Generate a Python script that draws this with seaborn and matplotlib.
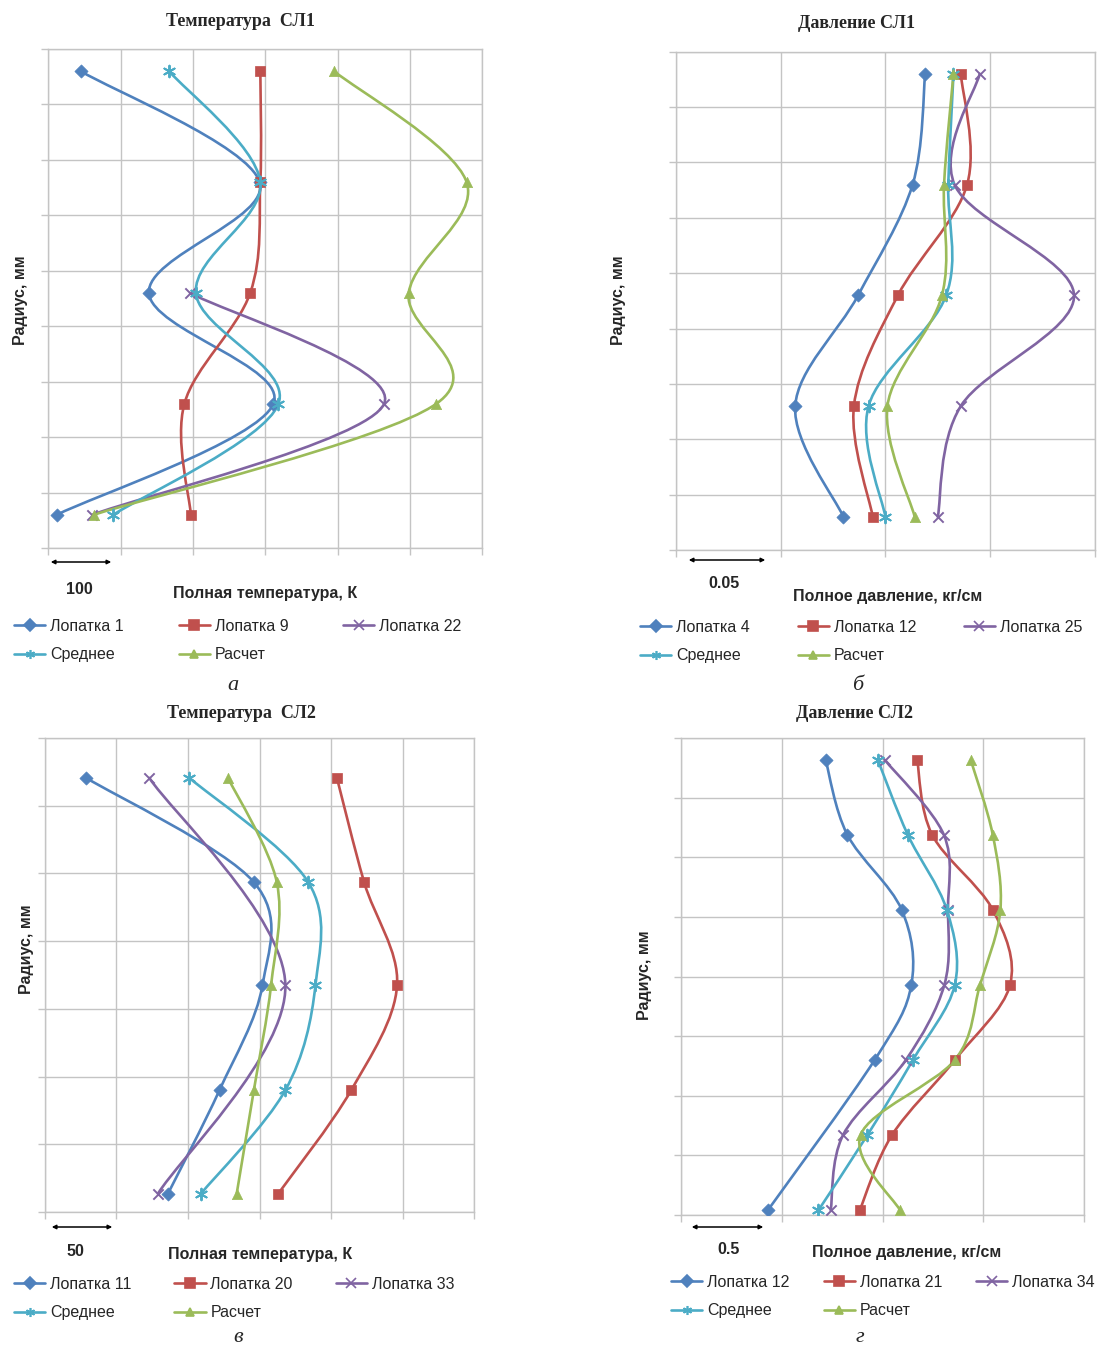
import numpy as np
import matplotlib
matplotlib.use("Agg")
import matplotlib.pyplot as plt
from matplotlib.path import Path
from matplotlib.patches import PathPatch, FancyArrowPatch
from matplotlib.lines import Line2D
import seaborn as sns

# ---- data (x in grid units of each panel, r = radius level) ----
# panel a: Температура СЛ1
r_a = [8.6, 6.6, 4.6, 2.6, 0.6]
a_blade1 = [45, 292, 139, 311, 12]
a_blade9 = [293, 293, 279, 188, 197]
r_a22 = [4.6, 2.6, 0.6]
a_blade22 = [196, 464, 61]
a_mean = [167, 293, 204, 318, 90]
a_calc = [395, 578, 498, 536, 63]

# panel b: Давление СЛ1
r_b = [8.6, 6.6, 4.6, 2.6, 0.6]
b_blade4 = [0.119, 0.113, 0.087, 0.057, 0.080]
b_blade12 = [0.136, 0.139, 0.106, 0.085, 0.094]
b_blade25 = [0.145, 0.133, 0.190, 0.136, 0.125]
b_mean = [0.1325, 0.130, 0.129, 0.092, 0.100]
b_calc = [0.1325, 0.128, 0.127, 0.101, 0.114]

# panel c: Температура СЛ2
r_c = [6.41, 4.87, 3.35, 1.80, 0.27]
c_blade11 = [29, 146, 152, 122, 86]
c_blade20 = [204, 223, 246, 214, 163]
r_c33 = [6.41, 3.35, 0.27]
c_blade33 = [73, 168, 79]
c_mean = [101, 184, 189, 168, 109]
c_calc = [128, 162, 158, 146, 134]

# panel d: Давление СЛ2
r_d = [7.63, 6.38, 5.12, 3.86, 2.60, 1.34, 0.08]
r_d12 = [7.63, 6.38, 5.12, 3.86, 2.60, 0.08]
d_blade12 = [0.718, 0.825, 1.095, 1.143, 0.961, 0.431]
d_blade21 = [1.172, 1.246, 1.547, 1.633, 1.359, 1.047, 0.887]
d_blade34 = [1.012, 1.304, 1.325, 1.307, 1.116, 0.804, 0.743]
d_mean = [0.977, 1.125, 1.319, 1.359, 1.151, 0.925, 0.682]
d_calc = [1.438, 1.547, 1.585, 1.484, 1.359, 0.891, 1.087]

W, H = 1098, 1348

sns.set_theme(style="white")
plt.rcParams['font.family'] = ['Liberation Sans', 'DejaVu Sans']

BLUE, RED, PURPLE, CYAN, GREEN = "#4F81BD", "#C0504D", "#8064A2", "#4BACC6", "#9BBB59"
STAR = (6, 2, 0)
GRID = "#c4c4c4"


def px(x, y):
    return x / W, 1 - y / H


def smooth_path(xs, ys):
    # excel-like smoothed line through the points
    pts = np.column_stack([xs, ys]).astype(float)
    n = len(pts)
    verts, codes = [pts[0]], [Path.MOVETO]
    for i in range(n - 1):
        p0, p1, p2 = pts[max(i - 1, 0)], pts[i], pts[i + 1]
        p3 = pts[min(i + 2, n - 1)]
        verts += [p1 + (p2 - p0) / 6, p2 - (p3 - p1) / 6, p2]
        codes += [Path.CURVE4] * 3
    return Path(verts, codes)


def draw_series(ax, xs, rs, color, marker, size):
    ax.add_patch(PathPatch(smooth_path(xs, rs), fill=False, edgecolor=color,
                           lw=1.9, zorder=3, capstyle='round'))
    if marker in ('x', STAR):
        sns.scatterplot(x=xs, y=rs, ax=ax, color=color, marker=marker, s=size,
                        linewidth=1.4, zorder=4, legend=False)
    else:
        sns.scatterplot(x=xs, y=rs, ax=ax, color=color, marker=marker, s=size,
                        edgecolor=color, linewidth=0.5, zorder=4, legend=False)


def setup_axes(ax, xmax, xstep, ymax):
    ax.set_xlim(0, xmax)
    ax.set_ylim(0, ymax)
    ax.set_xticks(np.arange(0, xmax + xstep / 2, xstep))
    ax.set_yticks(np.arange(0, ymax + 1))
    ax.set_xticklabels([])
    ax.set_yticklabels([])
    ax.grid(True, color=GRID, lw=1)
    for s in ax.spines.values():
        s.set_color(GRID)
        s.set_linewidth(1)
    ax.tick_params(direction='out', length=5, width=1, color=GRID,
                   left=True, bottom=True)
    ax.set_xlabel("")
    ax.set_ylabel("")


def add_legend(fig, names, colors, markers, x, y, colspace):
    handles = []
    for c, m in zip(colors, markers):
        ms = 6 if m in ('D', '^') else 6.5
        handles.append(Line2D([], [], color=c, marker=m, lw=1.9, markersize=ms,
                              markeredgecolor=c, markeredgewidth=1.2))
    order = [0, 3, 1, 4, 2]
    fig.legend([handles[i] for i in order], [names[i] for i in order],
               ncol=3, loc='upper left', bbox_to_anchor=px(x, y), frameon=False,
               borderpad=0, borderaxespad=0, handlelength=1.95, handletextpad=0.3,
               columnspacing=colspace, labelspacing=0.82, numpoints=1,
               fontsize=11.5)


def scale_bar(fig, x0, x1, y, label, lx, ly):
    fig.add_artist(FancyArrowPatch(
        px(x0, y), px(x1, y), transform=fig.transFigure, arrowstyle='<|-|>',
        mutation_scale=6, color='black', lw=1.1))
    fig.text(*px(lx, ly), label, ha='center', va='center', fontsize=11.5,
             fontweight='bold')


fig = plt.figure(figsize=(W / 100, H / 100), dpi=100)
fig.patch.set_facecolor('white')

title_kw = dict(ha='center', va='center', fontsize=13, fontweight='bold',
                family=['Liberation Serif', 'DejaVu Serif'])
lab_kw = dict(ha='center', va='center', fontsize=11.5, fontweight='bold')
let_kw = dict(ha='center', va='center', fontsize=16, style='italic',
              family=['Liberation Serif', 'DejaVu Serif'])

markers = ['D', 's', 'x', STAR, '^']
colors = [BLUE, RED, PURPLE, CYAN, GREEN]

# ---- panel a ----
ax = fig.add_axes([48.3 / W, 1 - 548 / H, (482.5 - 48.3) / W, (548 - 49) / H])
setup_axes(ax, 600, 100, 9)
draw_series(ax, a_blade1, r_a, BLUE, 'D', 45)
draw_series(ax, a_blade9, r_a, RED, 's', 60)
draw_series(ax, a_blade22, r_a22, PURPLE, 'x', 55)
draw_series(ax, a_mean, r_a, CYAN, STAR, 70)
draw_series(ax, a_calc, r_a, GREEN, '^', 55)
fig.text(*px(240, 22), "Температура  СЛ1", **title_kw)
fig.text(*px(20, 300), "Радиус, мм", rotation=90, **lab_kw)
fig.text(*px(265, 594), "Полная температура, К", **lab_kw)
scale_bar(fig, 48, 114, 562, "100", 79, 589)
add_legend(fig, ["Лопатка 1", "Лопатка 9", "Лопатка 22", "Среднее", "Расчет"],
           colors, markers, 14, 619, 3.45)
fig.text(*px(233, 686), "а", **let_kw)

# ---- panel b ----
ax = fig.add_axes([675.7 / W, 1 - 550 / H, (1095 - 675.7) / W, (550 - 51.7) / H])
setup_axes(ax, 0.2, 0.05, 9)
draw_series(ax, b_blade4, r_b, BLUE, 'D', 45)
draw_series(ax, b_blade12, r_b, RED, 's', 60)
draw_series(ax, b_blade25, r_b, PURPLE, 'x', 55)
draw_series(ax, b_mean, r_b, CYAN, STAR, 70)
draw_series(ax, b_calc, r_b, GREEN, '^', 55)
fig.text(*px(856, 24), "Давление СЛ1", **title_kw)
fig.text(*px(619, 300), "Радиус, мм", rotation=90, **lab_kw)
fig.text(*px(888, 596), "Полное давление, кг/см", **lab_kw)
scale_bar(fig, 686, 768, 560, "0.05", 724, 583)
add_legend(fig, ["Лопатка 4", "Лопатка 12", "Лопатка 25", "Среднее", "Расчет"],
           colors, markers, 640, 620, 3.0)
fig.text(*px(858, 686), "б", **let_kw)

# ---- panel c ----
ax = fig.add_axes([44.8 / W, 1 - 1212 / H, (474.4 - 44.8) / W, (1212 - 738) / H])
setup_axes(ax, 300, 50, 7)
draw_series(ax, c_blade11, r_c, BLUE, 'D', 45)
draw_series(ax, c_blade20, r_c, RED, 's', 60)
draw_series(ax, c_blade33, r_c33, PURPLE, 'x', 55)
draw_series(ax, c_mean, r_c, CYAN, STAR, 70)
draw_series(ax, c_calc, r_c, GREEN, '^', 55)
fig.text(*px(241, 713), "Температура  СЛ2", **title_kw)
fig.text(*px(27, 949), "Радиус, мм", rotation=90, **lab_kw)
fig.text(*px(260, 1255), "Полная температура, К", **lab_kw)
scale_bar(fig, 49, 115, 1227, "50", 75, 1251)
add_legend(fig, ["Лопатка 11", "Лопатка 20", "Лопатка 33", "Среднее", "Расчет"],
           colors, markers, 14, 1277, 2.7)
fig.text(*px(238, 1338), "в", **let_kw)

# ---- panel d ----
ax = fig.add_axes([681 / W, 1 - 1215 / H, (1084 - 681) / W, (1215 - 738) / H])
setup_axes(ax, 2.0, 0.5, 8)
draw_series(ax, d_blade12, r_d12, BLUE, 'D', 45)
draw_series(ax, d_blade21, r_d, RED, 's', 60)
draw_series(ax, d_blade34, r_d, PURPLE, 'x', 55)
draw_series(ax, d_mean, r_d, CYAN, STAR, 70)
draw_series(ax, d_calc, r_d, GREEN, '^', 55)
fig.text(*px(854, 713), "Давление СЛ2", **title_kw)
fig.text(*px(644, 975), "Радиус, мм", rotation=90, **lab_kw)
fig.text(*px(907, 1253), "Полное давление, кг/см", **lab_kw)
scale_bar(fig, 689, 766, 1227, "0.5", 729, 1249)
add_legend(fig, ["Лопатка 12", "Лопатка 21", "Лопатка 34", "Среднее", "Расчет"],
           colors, markers, 671, 1275, 2.15)
fig.text(*px(860, 1338), "г", **let_kw)

fig.savefig("out.png", dpi=100, facecolor='white')
